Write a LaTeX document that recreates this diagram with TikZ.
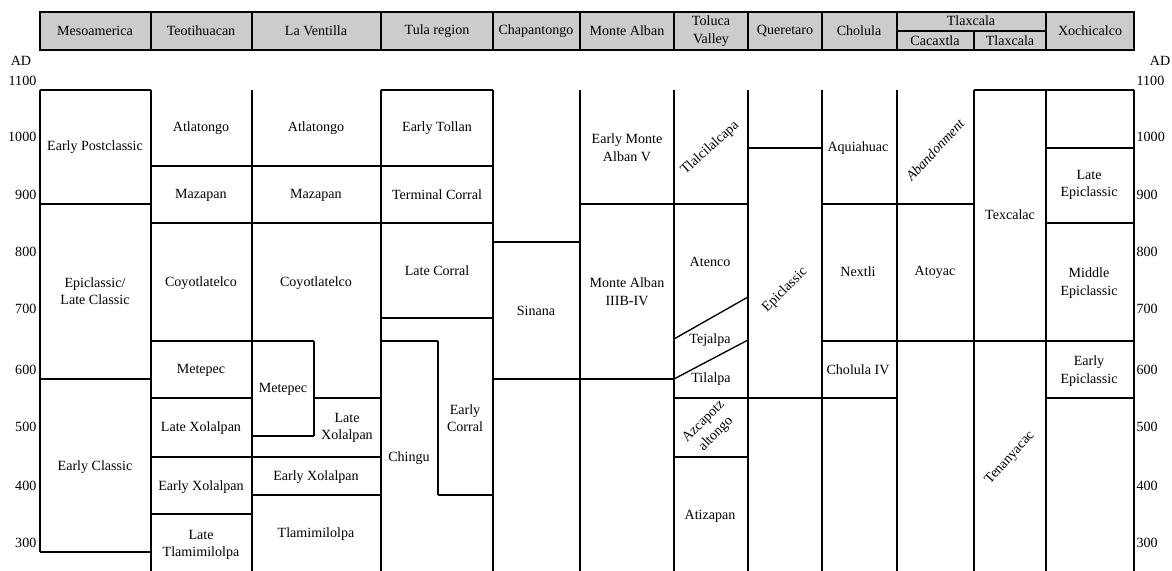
\documentclass[tikz,border=0pt]{standalone}
\usepackage{fontspec}
\setmainfont{Liberation Serif}
\usepackage{tikz}
\definecolor{headgray}{RGB}{204,204,204}

\begin{document}
\begin{tikzpicture}[x=0.03cm, y=-0.03cm, line width=1.15pt,
  every node/.style={align=center, inner sep=0pt, font=\fontsize{12}{15}\selectfont},
  yrl/.style={anchor=east}, yrr/.style={anchor=west}]

\useasboundingbox (0,0) rectangle (1172,571);

% header
\draw[fill=headgray, line width=1.5pt] (40,12) rectangle (1134,50);
\foreach \x in {151,252,381,493,580,674,748,822,897,1046}
  \draw[line width=1.5pt] (\x,12) -- (\x,50);
\draw[line width=1.5pt] (897,31) -- (1046,31);
\draw[line width=1.5pt] (974,31) -- (974,50);

\node (hmeso) at (95,31) {Mesoamerica};
\node (hteo) at (201,31) {Teotihuacan};
\node (hven) at (316,31) {La Ventilla};
\node (htula) at (437,31) {Tula region};
\node (hchap) at (536,31) {Chapantongo};
\node (halban) at (627,31) {Monte Alban};
\node (htol) at (711,31) {Toluca\\Valley};
\node (hquer) at (785,31) {Queretaro};
\node (hchol) at (859,31) {Cholula};
\node (htlax) at (971,21) {Tlaxcala};
\node (hcac) at (935,41) {Cacaxtla};
\node (htlx) at (1010,41) {Tlaxcala};
\node (hxoch) at (1090,31) {Xochicalco};

% years
\node (adl) at (21,61) {AD};
\node (adr) at (1160,61) {AD};
\foreach \yr/\y in {1100/81,1000/137,900/195,800/252,700/309,600/370,500/427,400/486,300/543}{
  \node[yrl] (l\yr) at (37,\y) {\yr};
  \node[yrr] (r\yr) at (1136,\y) {\yr};
}

% columns
\foreach \x in {151,252,381,493,580,674,748,822,897,974,1046,1134}
  \draw (\x,90) -- (\x,571);
\draw (40,90) -- (40,552);
\draw (314,341) -- (314,436);
\draw (438,341) -- (438,495);

% rows
\draw (40,90) -- (151,90);
\draw (381,90) -- (493,90);
\draw (974,90) -- (1134,90);
\draw (40,204) -- (151,204);
\draw (40,379) -- (151,379);
\draw (40,552) -- (151,552);
\draw (151,166) -- (493,166);
\draw (151,223) -- (493,223);
\draw (151,341) -- (314,341);
\draw (151,398) -- (252,398);
\draw (314,398) -- (381,398);
\draw (252,436) -- (314,436);
\draw (151,457) -- (381,457);
\draw (151,514) -- (252,514);
\draw (252,495) -- (381,495);
\draw (381,318) -- (493,318);
\draw (381,341) -- (438,341);
\draw (438,495) -- (493,495);
\draw (493,242) -- (580,242);
\draw (493,379) -- (674,379);
\draw (580,204) -- (748,204);
\draw (674,339) -- (748,297);
\draw (674,379) -- (748,340);
\draw (674,398) -- (897,398);
\draw (674,457) -- (748,457);
\draw (748,148) -- (822,148);
\draw (822,204) -- (974,204);
\draw (822,341) -- (1134,341);
\draw (1046,148) -- (1134,148);
\draw (1046,223) -- (1134,223);
\draw (1046,398) -- (1134,398);

% Mesoamerica
\node (eposcl) at (95,147) {Early Postclassic};
\node (epilate) at (95,291) {Epiclassic/\\Late Classic};
\node (eclassic) at (95,467) {Early Classic};

% Teotihuacan
\node (tatla) at (201,128) {Atlatongo};
\node (tmaza) at (201,195) {Mazapan};
\node (tcoyo) at (201,283) {Coyotlatelco};
\node (tmete) at (201,370) {Metepec};
\node (tlxol) at (201,428) {Late Xolalpan};
\node (texol) at (201,487) {Early Xolalpan};
\node (tltla) at (201,545) {Late\\Tlamimilolpa};

% La Ventilla
\node (vatla) at (316,128) {Atlatongo};
\node (vmaza) at (316,195) {Mazapan};
\node (vcoyo) at (316,283) {Coyotlatelco};
\node (vmete) at (283,389) {Metepec};
\node (vlxol) at (347,428) {Late\\Xolalpan};
\node (vexol) at (316,477) {Early Xolalpan};
\node (vtla) at (316,534) {Tlamimilolpa};

% Tula region
\node (etollan) at (437,128) {Early Tollan};
\node (tcorral) at (437,195) {Terminal Corral};
\node (lcorral) at (437,271) {Late Corral};
\node (ecorral) at (465,418) {Early\\Corral};
\node (chingu) at (409,458) {Chingu};

% Chapantongo
\node (sinana) at (536,311) {Sinana};

% Monte Alban
\node (emav) at (627,148) {Early Monte\\Alban V};
\node (ma3b) at (627,292) {Monte Alban\\IIIB-IV};

% Toluca Valley
\node[rotate=42] (tlalci) at (710,148) {Tlalcilalcapa};
\node (atenco) at (710,262) {Atenco};
\node (tejalpa) at (710,340) {Tejalpa};
\node (tilalpa) at (711,379) {Tilalpa};
\node[rotate=45] (azca) at (710,428) {Azcapotz\\altongo};
\node (atiza) at (710,516) {Atizapan};

% Queretaro
\node[rotate=45] (qepi) at (785,290) {Epiclassic};

% Cholula
\node (aquia) at (858,148) {Aquiahuac};
\node (nextli) at (858,272) {Nextli};
\node (chol4) at (858,370) {Cholula IV};

% Cacaxtla
\node[rotate=47, font=\fontsize{12}{15}\selectfont\itshape] (aband) at (935,150) {Abandonment};
\node (atoyac) at (935,272) {Atoyac};

% Tlaxcala
\node (texcalac) at (1010,215) {Texcalac};
\node[rotate=48] (tenany) at (1010,458) {Tenanyacac};

% Xochicalco
\node (xlate) at (1089,185) {Late\\Epiclassic};
\node (xmid) at (1089,283) {Middle\\Epiclassic};
\node (xearly) at (1089,371) {Early\\Epiclassic};

\end{tikzpicture}
\end{document}
